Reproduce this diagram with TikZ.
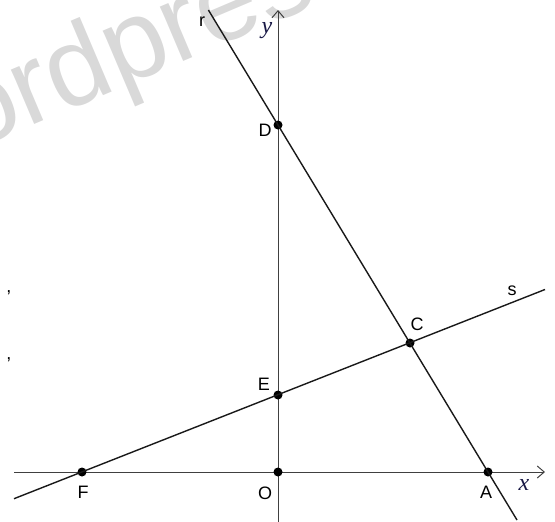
\documentclass[tikz,border=0pt]{standalone}
\usepackage{fontspec}
\setmainfont{Liberation Sans}
\newfontfamily\axisfont{Liberation Serif}
\usepackage{tikz}
\usetikzlibrary{positioning,arrows.meta,calc}
\definecolor{axisblue}{RGB}{25,25,70}

\begin{document}
\begin{tikzpicture}[
    x=1pt, y=-1pt,
    pnt/.style={circle, fill=black, inner sep=0pt, minimum size=9pt},
    lbl/.style={inner sep=0pt, font=\fontsize{18}{20}\selectfont},
    axlbl/.style={inner sep=0pt, text=axisblue, font=\axisfont\itshape\fontsize{24}{26}\selectfont},
    wmark/.style={inner sep=0pt, text=black!15, font=\fontsize{112}{114}\selectfont},
    axis/.style={black!75, line width=1pt, -{Straight Barb[length=7pt,width=12pt]}},
    ln/.style={black!90, line width=1.4pt}
]
\useasboundingbox (0,0) rectangle (555,522);
% watermark
\begin{scope}
\clip (0,0) rectangle (555,522);
\node[wmark, rotate=23, anchor=base west] (wm) at (-30,152) {ordpress};
\end{scope}
% axes
\coordinate (xs) at (14,472);
\coordinate (xe) at (545,472);
\coordinate (ys) at (278,522);
\coordinate (ye) at (278,10);
\draw[axis] (xs) -- (xe);
\draw[axis] (ys) -- (ye);
% points
\node[pnt] (O) at (278,472) {};
\node[pnt] (A) at (488,472) {};
\node[pnt] (D) at (278,125) {};
\node[pnt] (E) at (278,395) {};
\node[pnt] (C) at (410,343) {};
\node[pnt] (F) at (82,472) {};
% lines r and s
\coordinate (r1) at (208.4,10);
\coordinate (r2) at (517,520);
\coordinate (s1) at (14,498.7);
\coordinate (s2) at (545,289.5);
\draw[ln] (r1) -- (r2);
\draw[ln] (s1) -- (s2);
% labels
\node[lbl] (lr) at (202,22) {r};
\node[lbl] (ls) at (512,291) {s};
\node[axlbl] (ly) at (267,31) {y};
\node[axlbl] (lx) at (524,485) {x};
\node[lbl] (lD) at (265,130) {D};
\node[lbl] (lE) at (264,384) {E};
\node[lbl] (lC) at (417,324) {C};
\node[lbl] (lF) at (83,492) {F};
\node[lbl] (lO) at (265,493) {O};
\node[lbl] (lA) at (486,492) {A};
\node[lbl] (k1) at (9,292.5) {,};
\node[lbl] (k2) at (9,360) {,};
\end{tikzpicture}
\end{document}
